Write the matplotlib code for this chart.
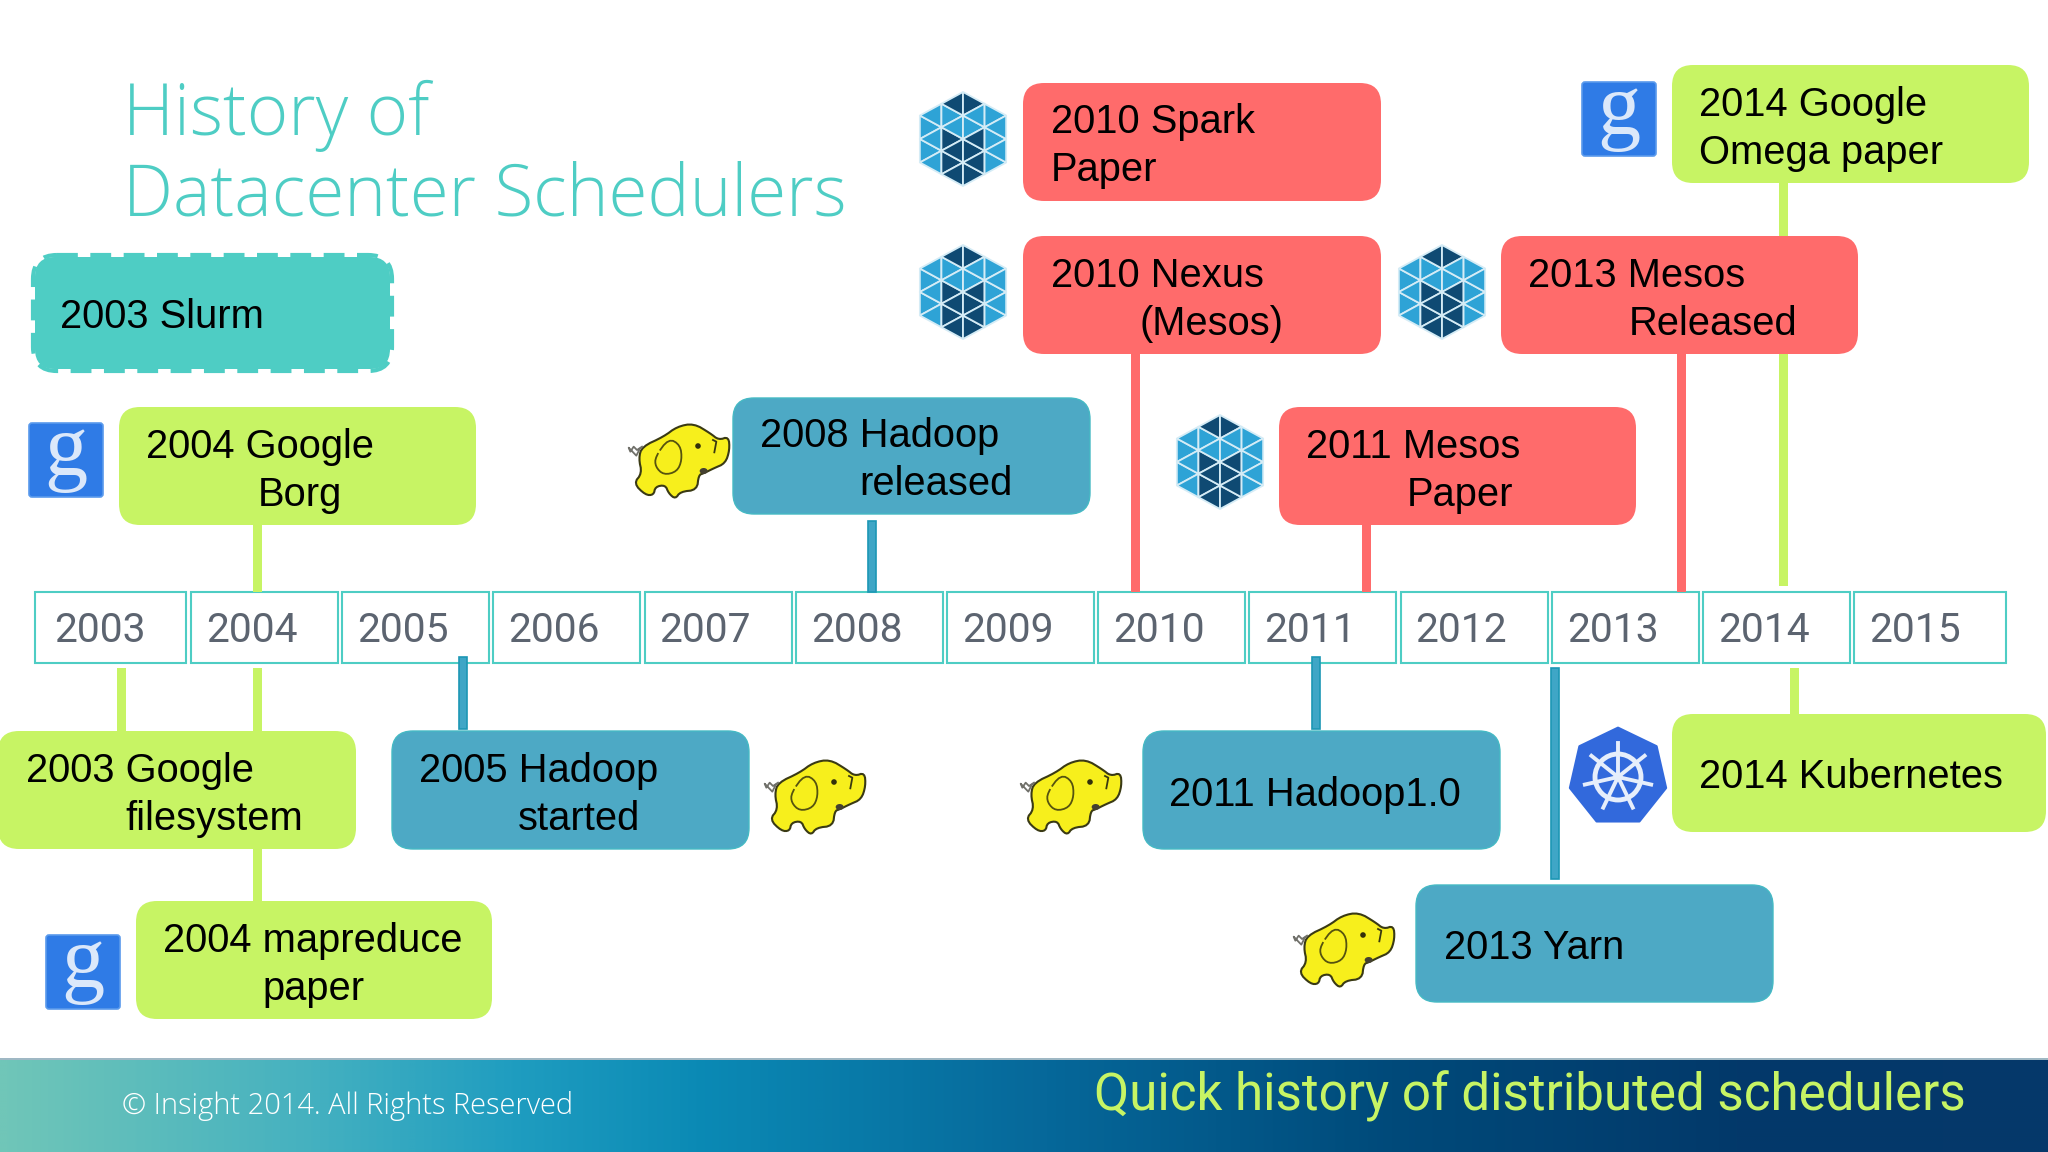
import numpy as np
import matplotlib
matplotlib.use("Agg")
import matplotlib.pyplot as plt
from matplotlib.patches import FancyBboxPatch, Rectangle, Polygon, Circle, Ellipse
from matplotlib.colors import LinearSegmentedColormap

# ---------- content ----------
years = [2003, 2004, 2005, 2006, 2007, 2008, 2009, 2010, 2011, 2012, 2013, 2014, 2015]
title_lines = ["History of", "Datacenter Schedulers"]
footer_left = "\u00a9 Insight 2014. All Rights Reserved"
footer_right = "Quick history of distributed schedulers"

event_labels = [
    ["2003 Slurm"],
    ["2004 Google", "Borg"],
    ["2008 Hadoop", "released"],
    ["2010 Spark", "Paper"],
    ["2010 Nexus", "(Mesos)"],
    ["2011 Mesos", "Paper"],
    ["2013 Mesos", "Released"],
    ["2014 Google", "Omega paper"],
    ["2003 Google", "filesystem"],
    ["2005 Hadoop", "started"],
    ["2011 Hadoop1.0"],
    ["2014 Kubernetes"],
    ["2013 Yarn"],
    ["2004 mapreduce", "paper"],
]
event_kinds = ["slurm", "google", "hadoop", "mesos", "mesos", "mesos", "mesos",
               "google", "google", "hadoop", "hadoop", "google", "hadoop", "google"]
# left, top, right, bottom (pixels)
event_boxes = [
    (33, 255, 392, 371), (119, 407, 476, 525), (733, 398, 1090, 514),
    (1023, 83, 1381, 201), (1023, 236, 1381, 354), (1279, 407, 1636, 525),
    (1501, 236, 1858, 354), (1672, 65, 2029, 183), (-2, 731, 356, 849),
    (392, 731, 749, 849), (1143, 731, 1500, 849), (1672, 714, 2046, 832),
    (1416, 885, 1773, 1002), (136, 901, 492, 1019),
]
# x of each text line, baseline of each text line
event_text_x = [[60], [146, 258], [760, 859], [1051, 1051], [1051, 1139], [1306, 1407],
                [1528, 1629], [1699, 1699], [26, 125], [419, 518], [1169], [1699],
                [1444], [163, 262]]
event_text_y = [[328], [458, 506], [447, 495], [133, 181], [287, 335], [458, 506],
                [287, 335], [116, 164], [782, 830], [782, 830], [806], [788],
                [959], [952, 1000]]

# connector: kind, x-left, x-right, y-top, y-bottom
connectors = [
    ("google", 253, 262, 525, 592), ("hadoop", 868, 876, 521, 592),
    ("mesos", 1131, 1140, 354, 592), ("mesos", 1362, 1371, 525, 592),
    ("mesos", 1677, 1686, 354, 592), ("google", 1779, 1788, 183, 586),
    ("google", 117, 126, 668, 731), ("google", 253, 262, 668, 901),
    ("hadoop", 459, 467, 657, 729), ("hadoop", 1312, 1320, 657, 729),
    ("hadoop", 1551, 1559, 668, 879), ("google", 1790, 1799, 668, 714),
]
google_icons = [(66, 460), (83, 972), (1619, 119)]
mesos_icons = [(963, 139), (963, 292), (1442, 292), (1220, 462)]
hadoop_icons = [(679, 461), (815, 797), (1071, 797), (1344, 950)]
kube_icons = [(1618, 777)]

FILL = {"google": "#c7f464", "mesos": "#ff6b6b", "hadoop": "#4da9c5", "slurm": "#4ecdc4"}
EDGE = {"google": "none", "mesos": "none", "hadoop": "#45b9c4", "slurm": "#4ecdc4"}
LINE = {"google": "#c7f464", "mesos": "#ff6b6b", "hadoop": "#3fa6c6"}
LINE_EDGE = {"google": "none", "mesos": "none", "hadoop": "#1d97b5"}

# ---------- canvas ----------
fig = plt.figure(figsize=(20.48, 11.52), dpi=100, facecolor="white")
ax = fig.add_axes([0, 0, 1, 1])
ax.set_xlim(0, 2048)
ax.set_ylim(1152, 0)
ax.axis("off")

# footer band
stops = [(0.0, "#70c6b8"), (0.15, "#45b1c0"), (0.25, "#1f9dc0"), (0.34, "#0b8ab5"),
         (0.51, "#06689a"), (0.68, "#004a7a"), (0.85, "#03396a"), (1.0, "#06386a")]
cmap = LinearSegmentedColormap.from_list("band", stops)
ax.imshow(np.linspace(0, 1, 1024)[None, :], extent=(0, 2048, 1152, 1060), cmap=cmap,
          aspect="auto", zorder=1, interpolation="bilinear")
ax.set_xlim(0, 2048)
ax.set_ylim(1152, 0)
ax.add_patch(Rectangle((0, 1058), 2048, 2, fc="#9fb8c4", ec="none", zorder=1.5))
ax.text(122, 1114, footer_left, fontfamily="Open Sans", fontweight="light", fontsize=20.9,
        color="white", va="baseline", zorder=3)
ax.text(1094, 1111, footer_right, fontfamily="Roboto", fontsize=36.8, color="#c7f464",
        va="baseline", zorder=3)

# title
for line, y in zip(title_lines, (135, 216)):
    ax.text(123, y, line, fontfamily="Open Sans", fontweight="light", fontsize=51,
            color="#4ecdc4", va="baseline", zorder=3)

# timeline
t_top, t_bot = 592, 663
for i, yr in enumerate(years):
    start = 35 if i == 0 else 191 + (i - 1) * 151.2
    end = 186 if i == 0 else (2006 if i == len(years) - 1 else start + 147)
    ax.add_patch(Rectangle((start, t_top), end - start, t_bot - t_top,
                           fc="white", ec="#4ecdc4", lw=1.5, zorder=2))
    ax.text(54 if i == 0 else start + 15, 642, str(yr), fontfamily="Roboto", fontsize=29.3,
            color="#5c6470", va="baseline", zorder=3)

# connectors
for kind, x0, x1, y0, y1 in connectors:
    ax.add_patch(Rectangle((x0, y0), x1 - x0, y1 - y0, fc=LINE[kind], ec=LINE_EDGE[kind],
                           lw=1.2, zorder=4))

# boxes
for lines, kind, box, xs, ys in zip(event_labels, event_kinds, event_boxes, event_text_x, event_text_y):
    l, t, r, b = box
    if kind == "slurm":
        ax.add_patch(FancyBboxPatch((l + 2, t + 2), r - l - 4, b - t - 4,
                     boxstyle="round,pad=0,rounding_size=20", fc=FILL[kind], ec="none", zorder=5))
        ax.add_patch(FancyBboxPatch((l, t), r - l, b - t,
                     boxstyle="round,pad=0,rounding_size=24", fc="none", ec=EDGE[kind],
                     lw=3, linestyle=(0, (5, 3)), zorder=5))
    else:
        ax.add_patch(FancyBboxPatch((l, t), r - l, b - t,
                     boxstyle="round,pad=0,rounding_size=21", fc=FILL[kind], ec=EDGE[kind],
                     lw=1.0, zorder=5))
    for line, x, y in zip(lines, xs, ys):
        ax.text(x, y, line, fontfamily="Liberation Sans", fontsize=28.7, color="black",
                va="baseline", zorder=6)

# ---------- icons ----------
def google_icon(cx, cy):
    ax.add_patch(FancyBboxPatch((cx - 37, cy - 37), 74, 74, boxstyle="round,pad=0,rounding_size=3",
                                fc="#2f7be6", ec="#5a9aec", lw=1.2, zorder=5))
    ax.text(cx, cy - 7, "g", fontfamily="Liberation Serif", fontsize=62, color="#dbe8fa",
            ha="center", va="center", zorder=6)

def mesos_icon(cx, cy, R=47):
    s = R / 2.0
    h = s * np.sqrt(3) / 2
    for a in range(-4, 5):
        for b in range(-4, 5):
            ox, oy = a * h, b * s + a * s / 2
            tris = [[(ox, oy), (ox, oy + s), (ox + h, oy + s / 2)],
                    [(ox, oy), (ox + h, oy + s / 2), (ox + h, oy - s / 2)]]
            for tri in tris:
                c = np.mean(tri, axis=0)
                # keep triangles inside the pointy-top hexagon
                if abs(c[0]) > R * 0.866 or abs(c[0]) * 0.577 + abs(c[1]) > R:
                    continue
                up = -c[1]
                dark = abs(c[0]) < h and (up > 1.2 * s or up < 0.3 * s)
                col = "#0f4a73" if dark else "#2ea3d6"
                pts = [(cx + p[0] * 1.06, cy + p[1]) for p in tri]
                ax.add_patch(Polygon(pts, closed=True, fc=col, ec="#d5ecf6", lw=1.3, zorder=5))

def smooth(points, n=2):
    p = np.asarray(points, float)
    for _ in range(n):
        q = np.roll(p, -1, axis=0)
        p = np.stack([0.75 * p + 0.25 * q, 0.25 * p + 0.75 * q], axis=1).reshape(-1, 2)
    return p

body = [(125, 205), (190, 175), (230, 145), (280, 135), (330, 165), (355, 185), (385, 175),
        (388, 215), (375, 255), (340, 270), (310, 285), (295, 290), (290, 335), (240, 340),
        (225, 362), (205, 345), (195, 320), (165, 325), (160, 350), (135, 350), (100, 315),
        (125, 285), (115, 240)]
ear = [(165, 235), (205, 180), (240, 200), (245, 245), (230, 280), (190, 290), (165, 265)]

def hadoop_icon(cx, cy):
    to_px = lambda pts: [(cx + (x - 236) / 3.0, cy + (y - 248) / 3.0) for x, y in pts]
    ax.add_patch(Polygon(smooth(to_px(body)), closed=True, fc="#f7ef1c", ec="#3a3a14", lw=1.5, zorder=5))
    e = smooth(to_px(ear))
    ax.plot(e[:, 0], e[:, 1], color="#55520f", lw=1.3, zorder=6)
    eye = to_px([(293, 203)])[0]
    ax.add_patch(Circle(eye, 2.8, fc="#33300a", ec="none", zorder=6))
    tr = to_px([(338, 185), (348, 190), (342, 222)])
    ax.plot(*zip(*tr), color="#3a3a10", lw=1.3, zorder=6)
    m = to_px([(310, 278)])[0]
    ax.add_patch(Ellipse(m, 8, 6, fc="#444030", ec="none", zorder=6))
    t = to_px([(125, 205), (110, 215), (100, 205), (90, 220), (85, 208), (108, 232), (118, 212)])
    ax.plot(*zip(*t), color="#70706a", lw=1.3, zorder=6)

def kube_icon(cx, cy, R=49):
    ang = -np.pi / 2 + np.arange(7) * 2 * np.pi / 7
    ax.add_patch(Polygon(np.c_[cx + R * np.cos(ang), cy + R * np.sin(ang)], closed=True,
                         fc="#3269dc", ec="#3269dc", lw=2, joinstyle="round", zorder=5))
    ax.add_patch(Circle((cx, cy), 23, fc="none", ec="#e6eefb", lw=3.5, zorder=6))
    ax.add_patch(Circle((cx, cy), 4.5, fc="#e6eefb", ec="none", zorder=6))
    for a in ang:
        ax.plot([cx, cx + 34 * np.cos(a)], [cy, cy + 34 * np.sin(a)], color="#e6eefb", lw=2.8, zorder=6)

for p in google_icons:
    google_icon(*p)
for p in mesos_icons:
    mesos_icon(*p)
for p in hadoop_icons:
    hadoop_icon(*p)
for p in kube_icons:
    kube_icon(*p)

fig.savefig("out.png", dpi=100, facecolor="white")
